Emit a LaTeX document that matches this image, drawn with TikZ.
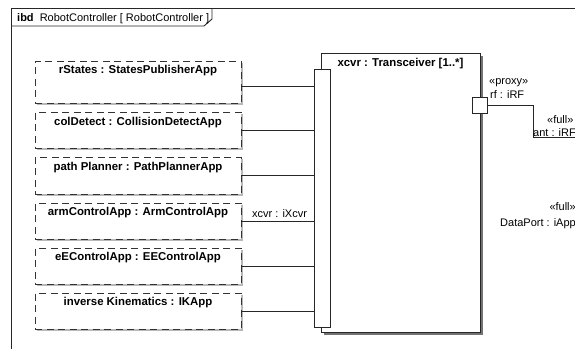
\documentclass[tikz,border=0pt]{standalone}
\usepackage{fontspec}
\setmainfont{Liberation Sans}
\usetikzlibrary{shadows}
\begin{document}
\begin{tikzpicture}[x=1pt,y=-1pt,
  ln/.style={draw=black!85, line width=0.9pt},
  appbox/.style={draw=black!80, line width=0.9pt, dash pattern=on 7pt off 4.5pt, fill=white,
    minimum width=206pt, inner sep=0pt,
    drop shadow={opacity=1, fill=black!28, shadow xshift=1.6pt, shadow yshift=-1.6pt}},
  partbox/.style={draw=black!85, line width=1pt, fill=white, inner sep=0pt,
    drop shadow={opacity=1, fill=black!55, shadow xshift=2.6pt, shadow yshift=-2.6pt}},
  portbox/.style={draw=black!85, line width=0.9pt, fill=white, inner sep=0pt},
  boldtext/.style={inner sep=0pt, font=\fontsize{11.4}{13}\selectfont\bfseries},
  plaintext/.style={inner sep=0pt, font=\fontsize{11}{13}\selectfont},
]
\useasboundingbox (0,0) rectangle (575,349);
% frame
\draw[ln] (11,349) -- (11,8) -- (575,8);
\draw[ln] (11,26) -- (204,26) -- (212,19) -- (212,8);
\node[plaintext, anchor=base west] (hdr) at (17,21) {\textbf{ibd}\ \ RobotController [ RobotController ]};

% application parts
\node[appbox, minimum height=42pt] (b1) at (138,82) {};
\node[appbox, minimum height=36pt] (b2) at (138,130) {};
\node[appbox, minimum height=37pt] (b3) at (138,175.5) {};
\node[appbox, minimum height=36pt] (b4) at (138,221) {};
\node[appbox, minimum height=36pt] (b5) at (138,266) {};
\node[appbox, minimum height=36pt] (b6) at (138,311) {};
\node[boldtext, anchor=base] (t1) at ([yshift=-13pt]b1.north) {rStates : StatesPublisherApp};
\node[boldtext, anchor=base] (t2) at ([yshift=-13.5pt]b2.north) {colDetect : CollisionDetectApp};
\node[boldtext, anchor=base] (t3) at ([yshift=-13.5pt]b3.north) {path Planner : PathPlannerApp};
\node[boldtext, anchor=base] (t4) at ([yshift=-13pt]b4.north) {armControlApp : ArmControlApp};
\node[boldtext, anchor=base] (t5) at ([yshift=-13pt]b5.north) {eEControlApp : EEControlApp};
\node[boldtext, anchor=base] (t6) at ([yshift=-13pt]b6.north) {inverse Kinematics : IKApp};

% transceiver
\node[partbox, minimum width=159pt, minimum height=279pt] (xcvr) at (400.5,192.5) {};
\node[boldtext, anchor=base] (xt) at ([yshift=-14pt]xcvr.north) {xcvr : Transceiver [1..*]};
\node[portbox, minimum width=16pt, minimum height=258pt] (xp) at (322,198) {};
\node[plaintext, anchor=base west] (xpl) at (252,217) {xcvr : iXcvr};
\node[portbox, minimum width=15pt, minimum height=16pt] (rf) at (479.5,105) {};
\node[plaintext, anchor=base west] (rfs) at (489,84) {«proxy»};
\node[plaintext, anchor=base west] (rfl) at (490,98) {rf : iRF};

% connectors
\coordinate (c1) at ([yshift=-4pt]b1.east);
\draw[ln] (c1) -- (c1 -| xp.west);
\draw[ln] (b2.east) -- (b2.east -| xp.west);
\draw[ln] (b3.east) -- (b3.east -| xp.west);
\draw[ln] (b4.east) -- (b4.east -| xp.west);
\draw[ln] (b5.east) -- (b5.east -| xp.west);
\draw[ln] (b6.east) -- (b6.east -| xp.west);

% ant port
\coordinate (antp) at (533,137);
\coordinate (antend) at (576,137);
\draw[ln] (rf.east) -| (antp) -- (antend);
\node[plaintext, anchor=base west] (ants) at (547,123) {«full»};
\node[plaintext, anchor=base west] (antl) at (533,136) {ant : iRF};

% data port
\node[plaintext, anchor=base east] (dps) at (576,210) {«full»};
\node[plaintext, anchor=base east] (dpl) at (576,226) {DataPort : iApp};
\end{tikzpicture}
\end{document}
